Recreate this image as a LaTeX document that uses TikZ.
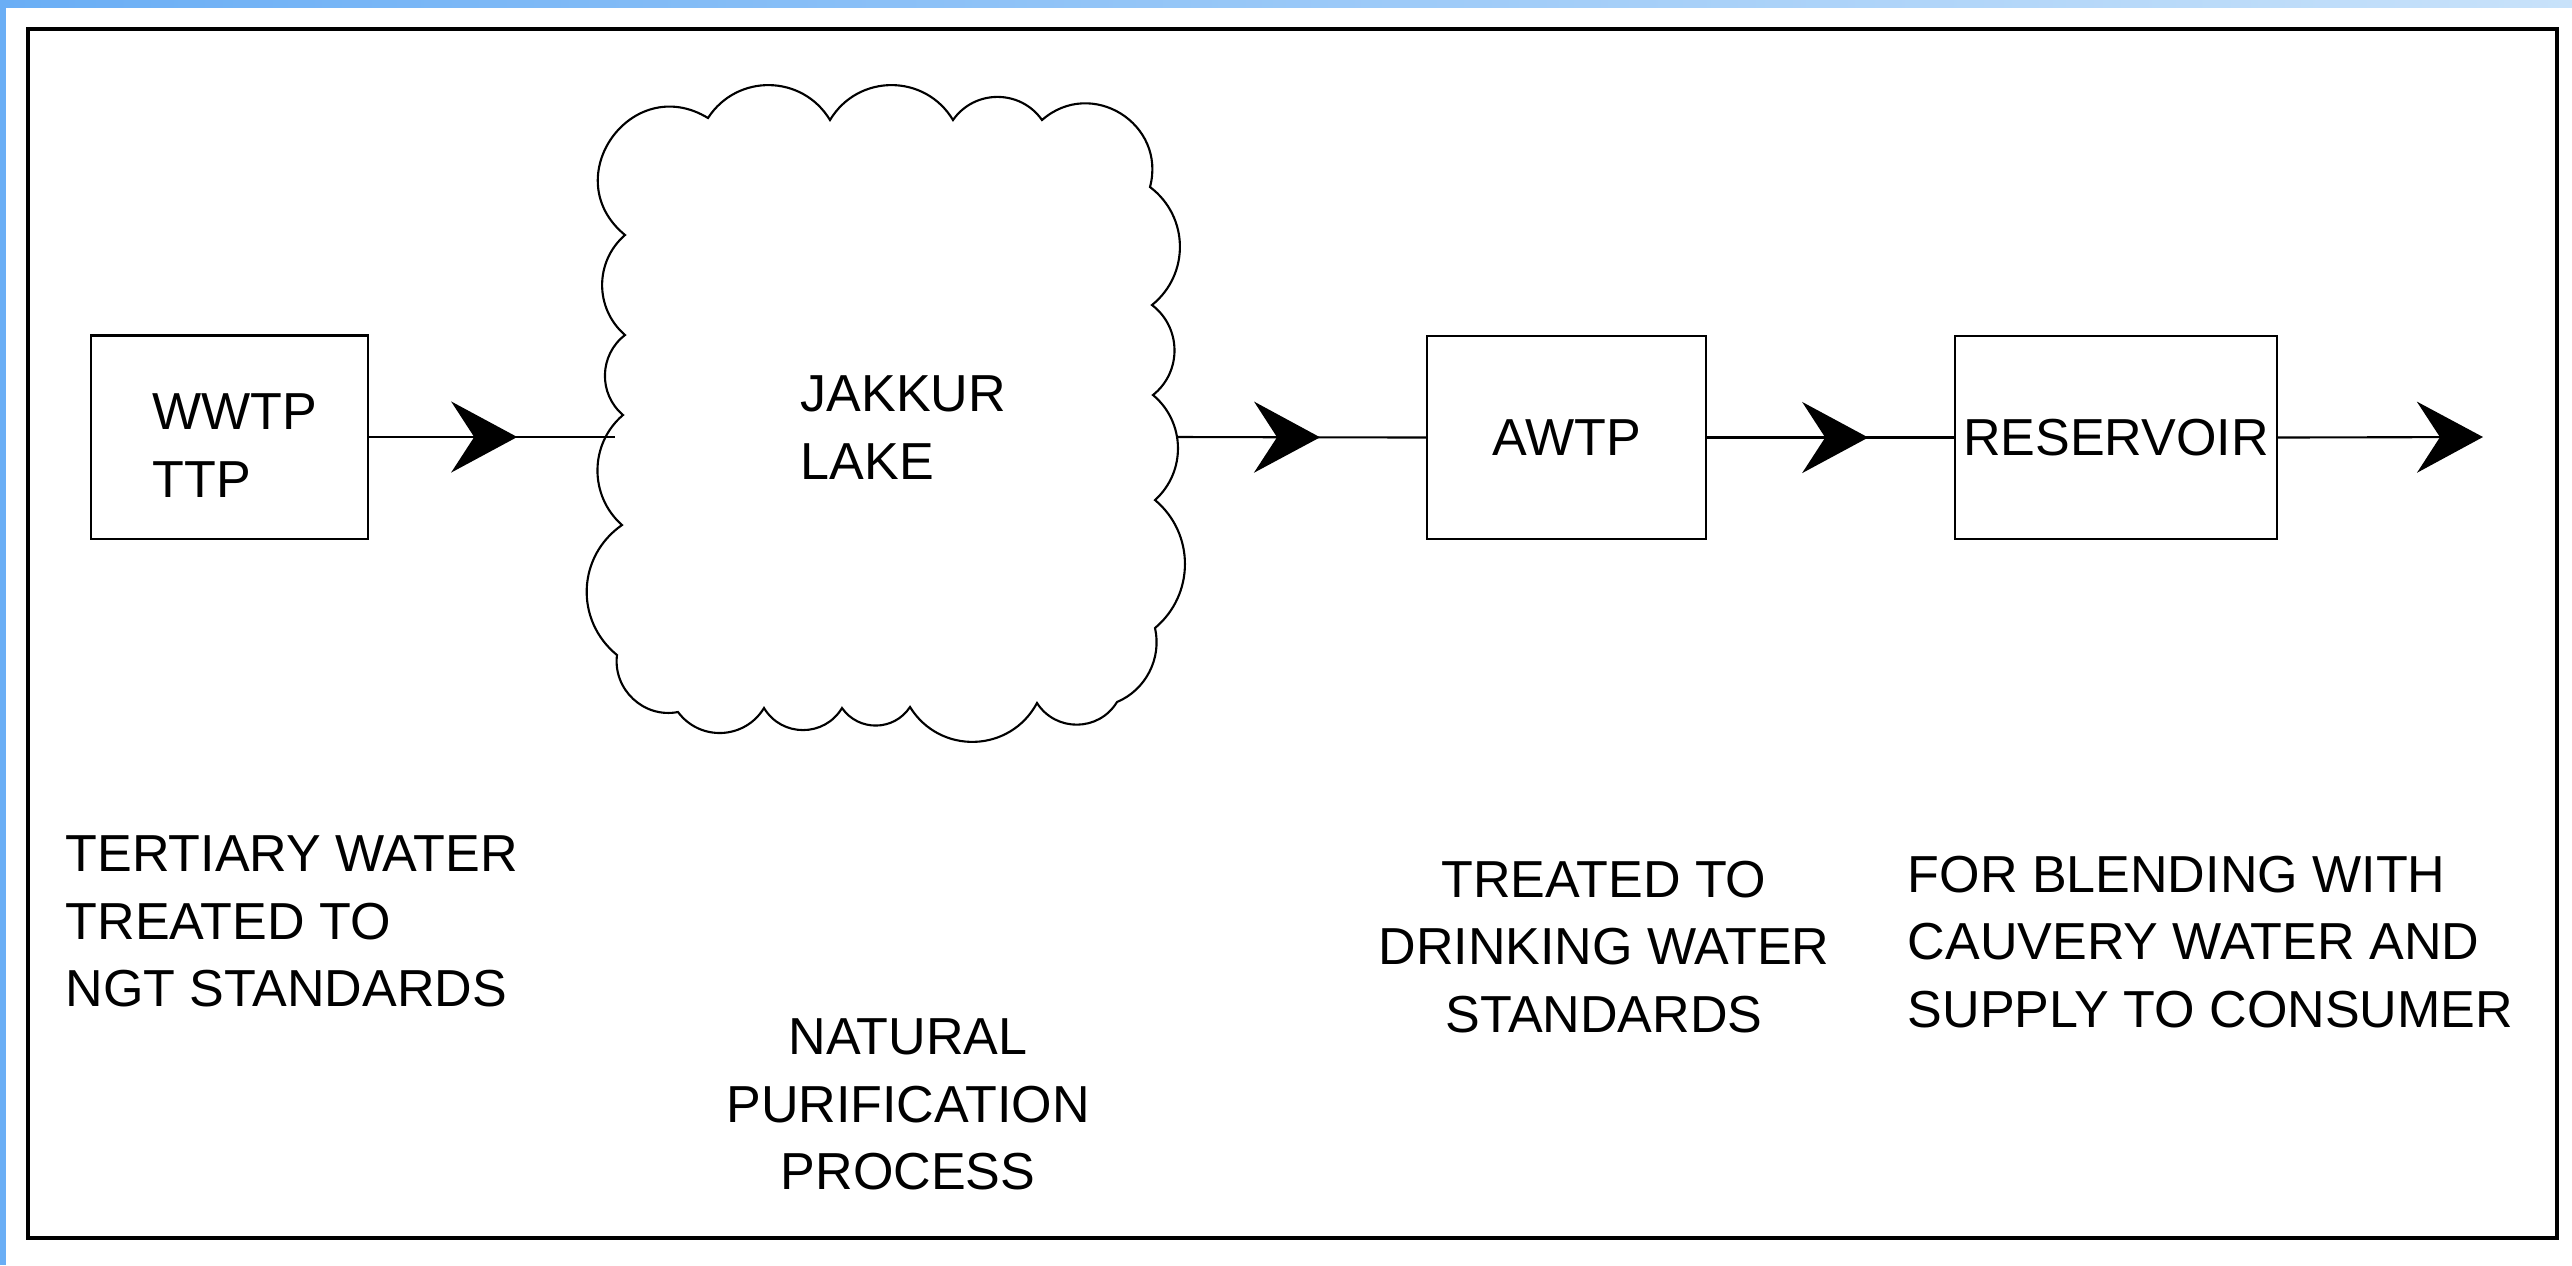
\documentclass[tikz,border=0pt]{standalone}
\usepackage{fontspec}
\setmainfont{Liberation Sans}
\usetikzlibrary{arrows.meta,calc,decorations.markings}
\definecolor{bandblue}{RGB}{106,174,245}
\definecolor{bandlight}{RGB}{226,239,251}
\definecolor{bandend}{RGB}{200,226,250}
\newcommand{\txtfont}{\fontsize{14.8}{19.2}\selectfont}
\tikzset{
  px/.style={x=0.01cm,y=-0.01cm},
  ln/.style={line width=0.6pt, draw=black},
  boxnode/.style={ln, rectangle, minimum height=2.03cm, inner sep=0pt, font=\txtfont},
  lbl/.style={font=\txtfont, inner sep=0pt},
  headtip/.tip={Stealth[length=0.66cm, width=0.71cm, inset=0.23cm]},
  midarrow/.style={postaction={decorate, decoration={markings, mark=at position #1 with {\arrow{headtip}}}}},
  cloudbump/.style n args={4}{insert path={.. controls ($(#1)!#4!#3:(#2)$) and ($(#2)!#4!-#3:(#1)$) .. (#2)}},
}
\begin{document}
\begin{tikzpicture}[px]
\useasboundingbox (0,0) rectangle (2572,1265);
\fill[white] (0,0) rectangle (2572,1265);
\shade[left color=bandblue, middle color=bandlight, right color=bandend] (0,0) rectangle (2572,7);
\fill[bandblue] (0,0) rectangle (6,1265);
\draw[line width=0.9pt] (28,29) rectangle (2557,1238);

% boxes
\node[boxnode, minimum width=2.77cm] (wwtp) at (229.5,437) {};
\node[lbl, align=left, anchor=north west] (wwtpl) at (152,393) {WWTP\\TTP};
\node[boxnode, minimum width=2.79cm] (awtp) at (1566.5,437.5) {AWTP};
\node[boxnode, minimum width=3.22cm] (res) at (2116,437.5) {RESERVOIR};

% cloud
\coordinate (c1) at (708,118);
\coordinate (c2) at (830,120);
\coordinate (c3) at (953,120);
\coordinate (c4) at (1042,120);
\coordinate (c5) at (1150,187);
\coordinate (c6) at (1152,305);
\coordinate (c7) at (1153,395);
\coordinate (c8) at (1155,500);
\coordinate (c9) at (1155,628);
\coordinate (c10) at (1117,702);
\coordinate (c11) at (1037,703);
\coordinate (c12) at (910,707);
\coordinate (c13) at (842,708);
\coordinate (c14) at (764,708);
\coordinate (c15) at (678,712);
\coordinate (c16) at (617,655);
\coordinate (c17) at (622,525);
\coordinate (c18) at (623,415);
\coordinate (c19) at (625,335);
\coordinate (c20) at (625,235);
\draw[ln, line join=miter] (c1)
  [cloudbump={c1}{c2}{58}{0.533cm}]
  [cloudbump={c2}{c3}{59}{0.543cm}]
  [cloudbump={c3}{c4}{55}{0.376cm}]
  [cloudbump={c4}{c5}{73}{0.655cm}]
  [cloudbump={c5}{c6}{52}{0.489cm}]
  [cloudbump={c6}{c7}{52}{0.372cm}]
  [cloudbump={c7}{c8}{49}{0.423cm}]
  [cloudbump={c8}{c9}{50}{0.521cm}]
  [cloudbump={c9}{c10}{40}{0.312cm}]
  [cloudbump={c10}{c11}{58}{0.348cm}]
  [cloudbump={c11}{c12}{60}{0.567cm}]
  [cloudbump={c12}{c13}{56}{0.290cm}]
  [cloudbump={c13}{c14}{59}{0.343cm}]
  [cloudbump={c14}{c15}{56}{0.369cm}]
  [cloudbump={c15}{c16}{54}{0.347cm}]
  [cloudbump={c16}{c17}{53}{0.547cm}]
  [cloudbump={c17}{c18}{49}{0.442cm}]
  [cloudbump={c18}{c19}{51}{0.327cm}]
  [cloudbump={c19}{c20}{49}{0.404cm}]
  [cloudbump={c20}{c1}{86}{0.895cm}] -- cycle;
\node[lbl, align=left, anchor=north west, font=\fontsize{14.8}{19.4}\selectfont] (lake) at (800,375) {JAKKUR\\LAKE};

% connectors
\coordinate (lakeW) at (615,437);
\coordinate (lakeE) at (1177,437);
\coordinate (outflow) at (2483,437);
\draw[ln, midarrow=1.48cm] (wwtp.east) -- (lakeW);
\draw[ln, midarrow=1.43cm] (lakeE) -- (awtp.west);
\draw[ln, midarrow=1.61cm] (awtp.east) -- (res.west);
\draw[ln, -{headtip}] (res.east) -- (outflow);

% captions
\node[lbl, align=left, anchor=north west] (t1) at (65,835) {TERTIARY WATER\\TREATED TO\\NGT STANDARDS};
\node[lbl, align=center, anchor=north] (t2) at (908,1018) {NATURAL\\PURIFICATION\\PROCESS};
\node[lbl, align=center, anchor=north] (t3) at (1604,860) {TREATED TO\\DRINKING WATER\\STANDARDS};
\node[lbl, align=left, anchor=north west] (t4) at (1907,855) {FOR BLENDING WITH\\CAUVERY WATER AND\\SUPPLY TO CONSUMER};
\end{tikzpicture}
\end{document}
